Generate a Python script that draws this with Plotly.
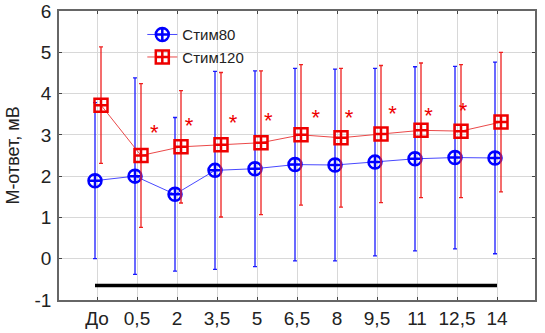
import plotly.graph_objects as go

categories = ["До", "0,5", "2", "3,5", "5", "6,5", "8", "9,5", "11", "12,5", "14"]
stim80_mean = [1.89, 2.00, 1.56, 2.14, 2.18, 2.28, 2.27, 2.34, 2.42, 2.45, 2.44]
stim80_err = [1.89, 2.38, 1.86, 2.40, 2.37, 2.33, 2.32, 2.27, 2.23, 2.21, 2.32]
stim120_mean = [3.72, 2.50, 2.71, 2.76, 2.81, 3.00, 2.93, 3.02, 3.11, 3.09, 3.31]
stim120_err = [1.41, 1.74, 1.36, 1.75, 1.74, 1.70, 1.68, 1.66, 1.63, 1.61, 1.69]
star_x = [1.43, 2.3, 3.4, 4.28, 5.47, 6.3, 7.39, 8.29, 9.15]
star_y = [3.02, 3.17, 3.24, 3.29, 3.38, 3.36, 3.46, 3.41, 3.55]
bar_x = [-0.05, 10.0]
bar_y = [-0.65, -0.65]
y_ticks = [-1, 0, 1, 2, 3, 4, 5, 6]
y_ticktext = ["-1", "0", "1", "2", "3", "4", "5", "6"]

idx = list(range(len(categories)))
x80 = [i - 0.05 for i in idx]
x120 = [i + 0.1 for i in idx]

fig = go.Figure()
fig.add_trace(go.Scatter(
    x=x80, y=stim80_mean, name="Стим80", mode="lines+markers",
    line=dict(color="rgba(40,40,255,0.85)", width=1),
    marker=dict(symbol="circle-cross-open", size=13, color="#0000ff", line=dict(width=2.5, color="#0000ff")),
    error_y=dict(type="data", array=stim80_err, color="#1a1aff", thickness=1.3, width=2),
))
fig.add_trace(go.Scatter(
    x=x120, y=stim120_mean, name="Стим120", mode="lines+markers",
    line=dict(color="rgba(230,40,40,0.85)", width=1),
    marker=dict(symbol="square-cross-open", size=13, color="#ee0000", line=dict(width=2.5, color="#ee0000")),
    error_y=dict(type="data", array=stim120_err, color="#ee2020", thickness=1.3, width=2),
))
fig.add_trace(go.Scatter(
    x=star_x, y=star_y, mode="text", text=["*"] * len(star_x), showlegend=False,
    textfont=dict(color="#ee0000", size=22, family="Liberation Sans"), hoverinfo="skip",
))
fig.add_trace(go.Scatter(
    x=bar_x, y=bar_y, mode="lines", showlegend=False,
    line=dict(color="black", width=3.5), hoverinfo="skip",
))

axis_common = dict(
    showline=True, linecolor="#666666", linewidth=1.5, mirror="ticks",
    showgrid=True, gridcolor="#d8d8d8", gridwidth=1, zeroline=False,
    ticks="inside", ticklen=3, tickcolor="#444444", automargin=False,
    tickfont=dict(family="Liberation Sans", size=19, color="#222222"),
)
fig.update_xaxes(range=[-0.95, 10.95], tickvals=idx, ticktext=categories, **axis_common)
fig.update_yaxes(range=[-1, 6], tickvals=y_ticks, ticktext=y_ticktext, ticklabelstandoff=2,
                 title=dict(text="М-ответ, мВ", font=dict(family="Liberation Sans", size=18, color="#222222"), standoff=10),
                 **axis_common)

fig.update_layout(
    width=545, height=333,
    margin=dict(l=59, r=10, t=11, b=33, autoexpand=False),
    paper_bgcolor="white", plot_bgcolor="white",
    font=dict(family="Liberation Sans", color="#222222"),
    legend=dict(x=0.175, y=0.975, xanchor="left", yanchor="top", bgcolor="rgba(0,0,0,0)",
                font=dict(size=15, family="Liberation Sans"), itemwidth=30, tracegroupgap=0),
    showlegend=True,
)

# remove the page's default body margin so the figure fills the window exactly
fig.write_html("out.html", config={"displayModeBar": False},
               post_script="document.body.style.margin='0px';document.body.style.overflow='hidden';")
